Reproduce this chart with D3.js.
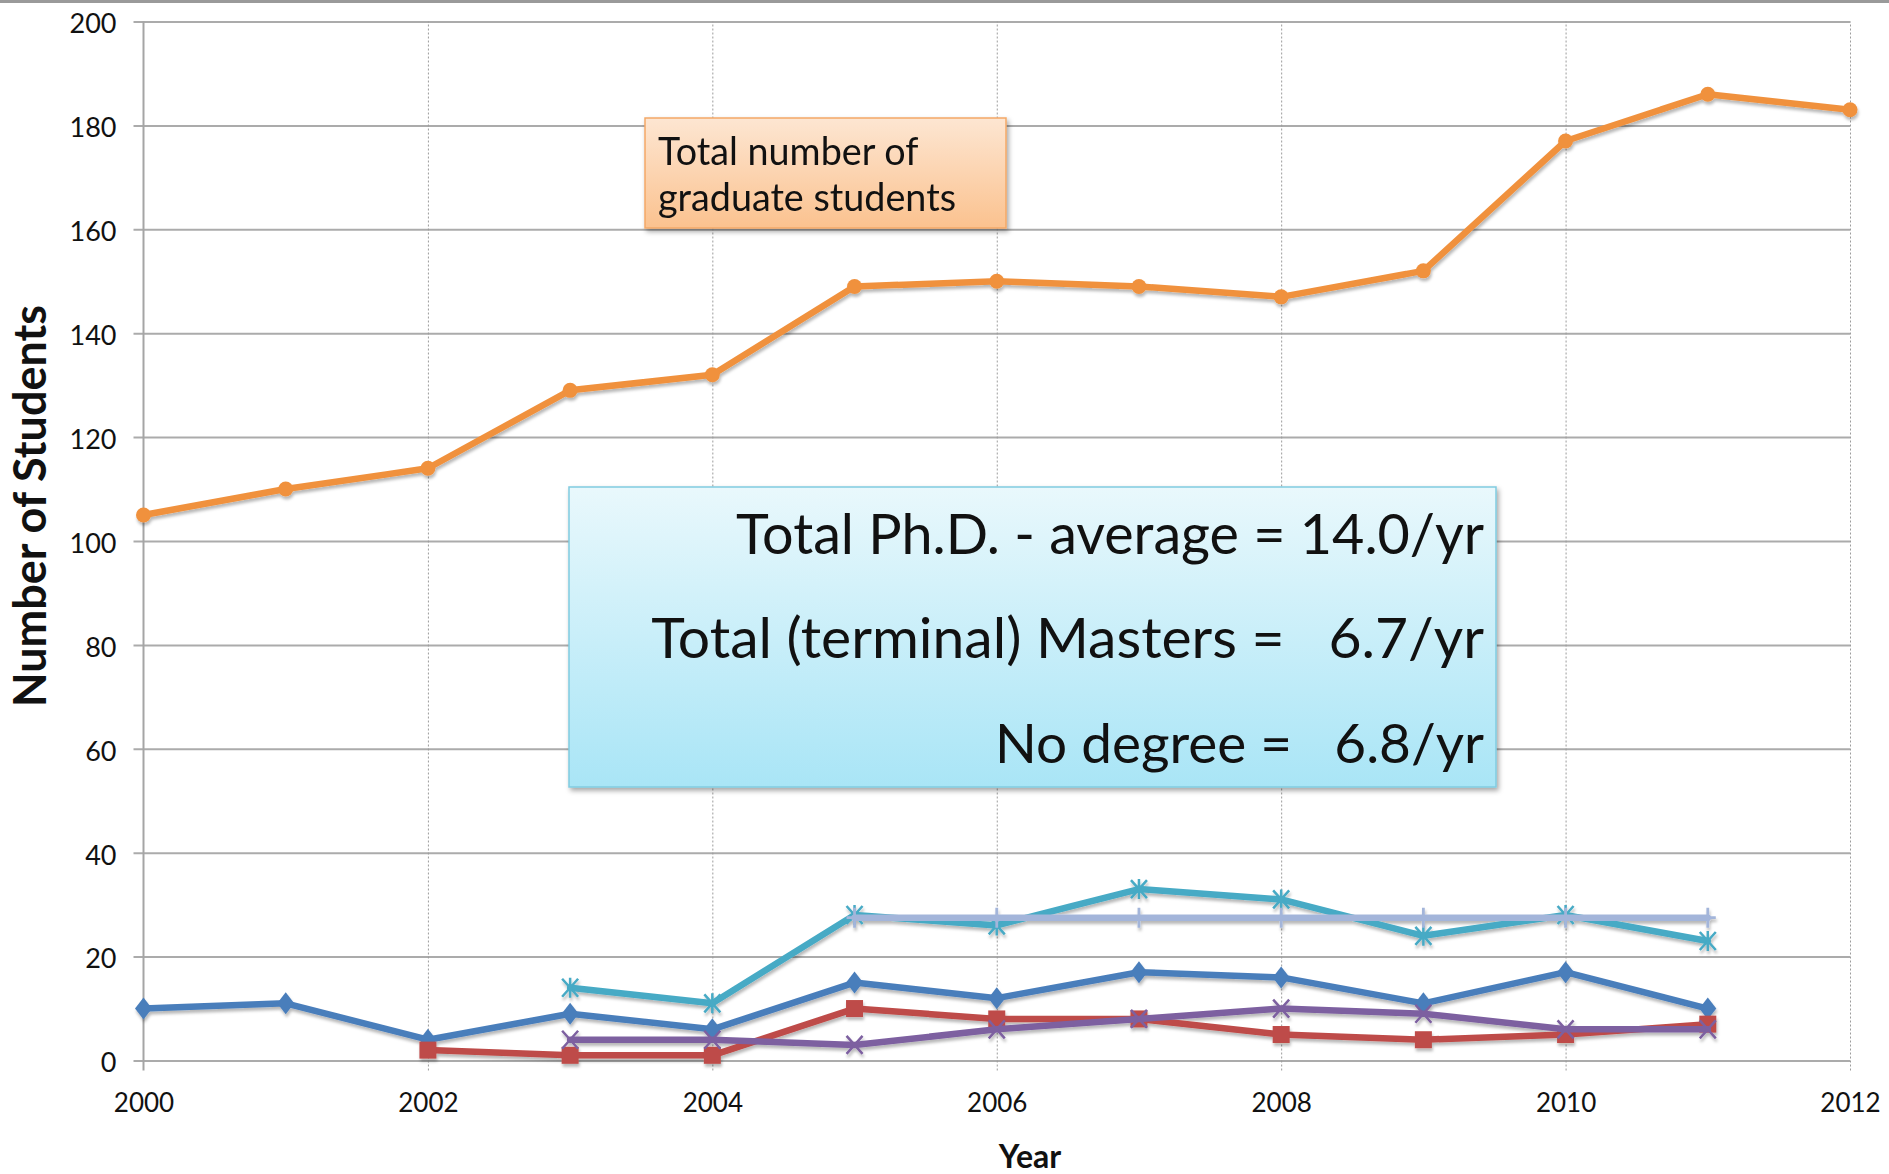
<!DOCTYPE html>
<html>
<head>
<meta charset="utf-8">
<script src="https://cdn.jsdelivr.net/npm/d3@7"></script>
<style>
  html, body { margin: 0; padding: 0; background: #fff; }
  svg { display: block; }
  text { font-family: Lato, "Open Sans", sans-serif; fill: #111; }
</style>
</head>
<body>
<svg id="chart" width="1889" height="1174"></svg>
<script>
// ---------------- data ----------------
const years = [2000, 2001, 2002, 2003, 2004, 2005, 2006, 2007, 2008, 2009, 2010, 2011, 2012];
const totalGrad = [105, 110, 114, 129, 132, 149, 150, 149, 147, 152, 177, 186, 183];

const phdYears = [2000, 2001, 2002, 2003, 2004, 2005, 2006, 2007, 2008, 2009, 2010, 2011];
const phd = [10, 11, 4, 9, 6, 15, 12, 17, 16, 11, 17, 10];

const mastersYears = [2002, 2003, 2004, 2005, 2006, 2007, 2008, 2009, 2010, 2011];
const masters = [2, 1, 1, 10, 8, 8, 5, 4, 5, 7];

const noDegreeYears = [2003, 2004, 2005, 2006, 2007, 2008, 2009, 2010, 2011];
const noDegree = [4, 4, 3, 6, 8, 10, 9, 6, 6];

const departYears = [2003, 2004, 2005, 2006, 2007, 2008, 2009, 2010, 2011];
const departTotal = [14, 11, 28, 26, 33, 31, 24, 28, 23];

const avgYears = [2005, 2006, 2007, 2008, 2009, 2010, 2011];
const avgValues = [27.5, 27.5, 27.5, 27.5, 27.5, 27.5, 27.5];

const yTicks = [0, 20, 40, 60, 80, 100, 120, 140, 160, 180, 200];
const xTicks = [2000, 2002, 2004, 2006, 2008, 2010, 2012];

const orangeLabel = ["Total number of", "graduate students"];
const blueLabel = ["Total Ph.D. - average = 14.0/yr",
                   "Total (terminal) Masters =   6.7/yr",
                   "No degree =   6.8/yr"];

// ---------------- layout ----------------
const svg = d3.select("#chart");
const X0 = 143.5, X1 = 1850, Y0 = 1060.5, Y1 = 21.5;
const x = d3.scaleLinear().domain([2000, 2012]).range([X0, X1]);
const y = d3.scaleLinear().domain([0, 200]).range([Y0, Y1]);

const defs = svg.append("defs");
const sh = defs.append("filter").attr("id", "lineShadow")
  .attr("x", "-5%").attr("y", "-20%").attr("width", "110%").attr("height", "140%");
sh.append("feDropShadow").attr("dx", 1).attr("dy", 3).attr("stdDeviation", 1.8)
  .attr("flood-color", "#000").attr("flood-opacity", 0.28);
const bsh = defs.append("filter").attr("id", "boxShadow")
  .attr("x", "-5%").attr("y", "-5%").attr("width", "110%").attr("height", "115%");
bsh.append("feDropShadow").attr("dx", 2).attr("dy", 3).attr("stdDeviation", 2.5)
  .attr("flood-color", "#000").attr("flood-opacity", 0.35);

const gOr = defs.append("linearGradient").attr("id", "gOrange").attr("x1", 0).attr("y1", 0).attr("x2", 0).attr("y2", 1);
gOr.append("stop").attr("offset", "0%").attr("stop-color", "#fde6d2");
gOr.append("stop").attr("offset", "100%").attr("stop-color", "#fbc28f");
const gBl = defs.append("linearGradient").attr("id", "gBlue").attr("x1", 0).attr("y1", 0).attr("x2", 0).attr("y2", 1);
gBl.append("stop").attr("offset", "0%").attr("stop-color", "#e9f8fc");
gBl.append("stop").attr("offset", "100%").attr("stop-color", "#a9e5f6");

// top frame line
svg.append("line").attr("x1", 0).attr("x2", 1889).attr("y1", 1.5).attr("y2", 1.5)
  .attr("stroke", "#9a9a9a").attr("stroke-width", 3);

// horizontal gridlines
const yGrid = svg.append("g").attr("transform", `translate(${X1},0)`)
  .call(d3.axisRight(y).tickValues(yTicks).tickSize(-(X1 - X0 + 10)).tickFormat(""));
yGrid.select(".domain").remove();
yGrid.selectAll("line").attr("stroke", "#ababab").attr("stroke-width", 2);

// vertical dotted gridlines
const xGrid = svg.append("g").attr("transform", `translate(0,${Y0 + 10})`)
  .call(d3.axisBottom(x).tickValues(xTicks.slice(1)).tickSize(-(Y0 + 10 - Y1)).tickFormat(""));
xGrid.select(".domain").remove();
xGrid.selectAll("line").attr("stroke", "#9c9c9c").attr("stroke-width", 1).attr("stroke-dasharray", "2,2");

// y axis
const yAxis = svg.append("g").attr("transform", `translate(${X0},0)`)
  .call(d3.axisLeft(y).tickValues(yTicks).tickSize(0).tickPadding(27));
yAxis.select(".domain").remove();
yAxis.selectAll("text").attr("font-size", 27).attr("font-family", "Lato").attr("fill", "#111").attr("dy", "0.42em");
svg.append("line").attr("x1", X0).attr("x2", X0).attr("y1", Y1).attr("y2", Y0 + 10)
  .attr("stroke", "#a5a5a5").attr("stroke-width", 2);

// x axis labels
const xAxis = svg.append("g").attr("transform", `translate(0,${Y0})`)
  .call(d3.axisBottom(x).tickValues(xTicks).tickSize(0).tickPadding(42).tickFormat(d3.format("d")));
xAxis.select(".domain").remove();
xAxis.selectAll("text").attr("font-size", 26).attr("font-family", "Lato").attr("fill", "#111")
  .attr("dy", "0.35em");

// axis titles
svg.append("text").attr("x", 1030).attr("y", 1168).attr("text-anchor", "middle")
  .attr("font-size", 32).attr("font-weight", "bold").text("Year");
svg.append("text").attr("transform", "translate(46,506) rotate(-90)").attr("text-anchor", "middle")
  .attr("font-size", 36).attr("font-weight", "bold").attr("id", "ytitle").text("Number of Students");

// ---------------- series ----------------
const line = d3.line().x(d => x(d[0])).y(d => y(d[1]));
function zipS(xs, vs) { return xs.map((v, i) => [v, vs[i]]); }

const series = [
  { name: "phd", pts: zipS(phdYears, phd), color: "#4a7ebb", marker: "diamond" },
  { name: "masters", pts: zipS(mastersYears, masters), color: "#be4b48", marker: "square" },
  { name: "nodeg", pts: zipS(noDegreeYears, noDegree), color: "#7d60a0", marker: "x" },
  { name: "depart", pts: zipS(departYears, departTotal), color: "#46aac5", marker: "asterisk" },
  { name: "avg", pts: zipS(avgYears, avgValues), color: "#a3b5da", marker: "plus" },
  { name: "total", pts: zipS(years, totalGrad), color: "#f0913d", marker: "circle" }
];

const plot = svg.append("g").attr("filter", "url(#lineShadow)");
series.forEach(s => {
  const g = plot.append("g").attr("class", "series-" + s.name);
  g.append("path").datum(s.pts).attr("d", line).attr("fill", "none")
    .attr("stroke", s.color).attr("stroke-width", 6.5).attr("stroke-linejoin", "round").attr("stroke-linecap", "round");
  const m = g.selectAll(".m").data(s.pts).enter().append("g")
    .attr("transform", d => `translate(${x(d[0])},${y(d[1])})`);
  if (s.marker === "circle") {
    m.append("circle").attr("r", 7.5).attr("fill", s.color);
  } else if (s.marker === "diamond") {
    m.append("path").attr("d", "M0,-11L8.5,0L0,11L-8.5,0Z").attr("fill", s.color);
  } else if (s.marker === "square") {
    m.append("rect").attr("x", -8.5).attr("y", -8.5).attr("width", 17).attr("height", 17).attr("fill", s.color);
  } else if (s.marker === "x") {
    m.append("path").attr("d", "M-8,-9L8,9M-8,9L8,-9").attr("stroke", s.color).attr("stroke-width", 2.5);
  } else if (s.marker === "asterisk") {
    m.append("path").attr("d", "M-8,-9L8,9M-8,9L8,-9M0,-10L0,10").attr("stroke", s.color).attr("stroke-width", 2.5);
  } else if (s.marker === "plus") {
    m.append("path").attr("d", "M0,-10L0,10M-8,0L8,0").attr("stroke", s.color).attr("stroke-width", 2.8);
  }
});

// ---------------- annotation boxes ----------------
function fit(sel, target) {
  const fs = +sel.attr("font-size");
  const w = sel.node().getComputedTextLength();
  sel.attr("font-size", (fs * target / w).toFixed(2));
}

svg.append("rect").attr("x", 645).attr("y", 118).attr("width", 361).attr("height", 110)
  .attr("fill", "url(#gOrange)").attr("stroke", "#f3a867").attr("stroke-width", 1.5).attr("filter", "url(#boxShadow)");
const o1 = svg.append("text").attr("x", 658).attr("y", 165).attr("font-size", 34).text(orangeLabel[0]);
const o2 = svg.append("text").attr("x", 658).attr("y", 211).attr("font-size", 34).text(orangeLabel[1]);
fit(o2, 298);
o1.attr("font-size", o2.attr("font-size"));

svg.append("rect").attr("x", 569).attr("y", 487).attr("width", 927).attr("height", 300)
  .attr("fill", "url(#gBlue)").attr("stroke", "#80cbe0").attr("stroke-width", 1.5).attr("filter", "url(#boxShadow)");
const bY = [554, 658, 763];
const bW = [748, 833, 489];
blueLabel.forEach((t, i) => {
  const tx = svg.append("text").attr("x", 1484).attr("y", bY[i]).attr("text-anchor", "end")
    .attr("font-size", 50).attr("xml:space", "preserve").style("white-space", "pre").text(t);
  fit(tx, bW[i]);
});

fit(d3.select("#ytitle"), 402);
</script>
</body>
</html>
